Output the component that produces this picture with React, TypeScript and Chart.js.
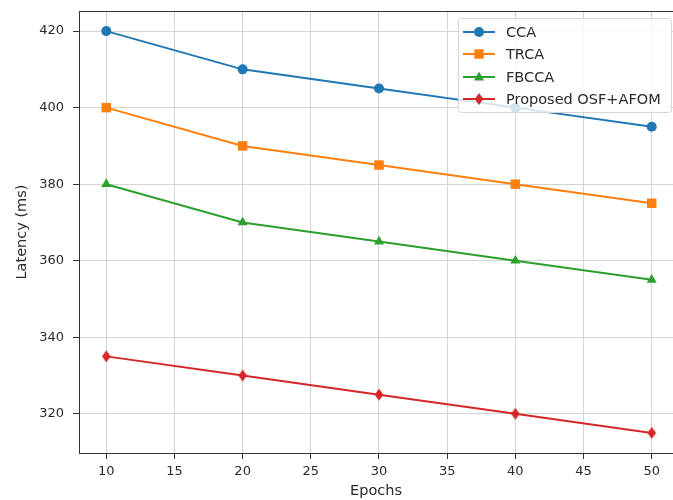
import React, { useEffect, useRef } from "react";
import { Chart, registerables } from "chart.js";

Chart.register(...registerables);

const epochs = [10, 20, 30, 40, 50];
const ccaValues = [420, 410, 405, 400, 395];
const trcaValues = [400, 390, 385, 380, 375];
const fbccaValues = [380, 370, 365, 360, 355];
const proposedValues = [335, 330, 325, 320, 315];
const seriesNames = ["CCA", "TRCA", "FBCCA", "Proposed OSF+AFOM"];
const xTicks = [10, 15, 20, 25, 30, 35, 40, 45, 50];
const yTicks = [320, 340, 360, 380, 400, 420];

const COLORS = ["#1f77b4", "#ff7f0e", "#2ca02c", "#d62728"];
const FONT = "'DejaVu Sans', sans-serif";
const TEXT = "#2a2a2a";

function makeThinDiamond(color: string) {
  const c = document.createElement("canvas");
  c.width = 10;
  c.height = 13;
  const g = c.getContext("2d")!;
  g.fillStyle = color;
  g.beginPath();
  g.moveTo(5, 0.5);
  g.lineTo(9.3, 6.5);
  g.lineTo(5, 12.5);
  g.lineTo(0.7, 6.5);
  g.closePath();
  g.fill();
  return c;
}

function drawMarker(ctx: CanvasRenderingContext2D, style: string, x: number, y: number, color: string) {
  ctx.save();
  ctx.fillStyle = color;
  ctx.beginPath();
  if (style === "circle") {
    ctx.arc(x, y, 5, 0, Math.PI * 2);
  } else if (style === "rect") {
    ctx.rect(x - 4.7, y - 4.7, 9.4, 9.4);
  } else if (style === "triangle") {
    ctx.moveTo(x, y - 5.5);
    ctx.lineTo(x + 5, y + 3.5);
    ctx.lineTo(x - 5, y + 3.5);
    ctx.closePath();
  } else {
    ctx.moveTo(x, y - 6);
    ctx.lineTo(x + 4.3, y);
    ctx.lineTo(x, y + 6);
    ctx.lineTo(x - 4.3, y);
    ctx.closePath();
  }
  ctx.fill();
  ctx.restore();
}

const legendStyles = ["circle", "rect", "triangle", "diamond"];

const legendPlugin = {
  id: "customLegend",
  afterDraw(chart: any) {
    const ctx: CanvasRenderingContext2D = chart.ctx;
    const ca = chart.chartArea;
    // top spine
    ctx.save();
    ctx.strokeStyle = "#333";
    ctx.lineWidth = 1;
    ctx.beginPath();
    ctx.moveTo(ca.left, ca.top + 0.5);
    ctx.lineTo(ca.right, ca.top + 0.5);
    ctx.stroke();
    ctx.restore();

    const x0 = 458, y0 = 18, w = 213, h = 94;
    ctx.save();
    ctx.globalAlpha = 0.8;
    ctx.fillStyle = "#fff";
    ctx.beginPath();
    (ctx as any).roundRect(x0 + 0.5, y0 + 0.5, w, h, 3);
    ctx.fill();
    ctx.globalAlpha = 1;
    ctx.strokeStyle = "#d6d6d6";
    ctx.lineWidth = 1;
    ctx.stroke();
    ctx.font = `14.5px ${FONT}`;
    ctx.textBaseline = "middle";
    ctx.textAlign = "left";
    const rows = [32, 54, 77, 99];
    seriesNames.forEach((name, i) => {
      const y = rows[i];
      ctx.strokeStyle = COLORS[i];
      ctx.lineWidth = 2;
      ctx.beginPath();
      ctx.moveTo(463, y);
      ctx.lineTo(495, y);
      ctx.stroke();
      drawMarker(ctx, legendStyles[i], 479, y, COLORS[i]);
      ctx.fillStyle = TEXT;
      ctx.fillText(name, 506, y + 1);
    });
    ctx.restore();
  },
};

export default function App() {
  const ref = useRef<HTMLCanvasElement | null>(null);
  useEffect(() => {
    if (!ref.current) return;
    const makeData = (vals: number[]) => epochs.map((x, i) => ({ x, y: vals[i] }));
    const all = [ccaValues, trcaValues, fbccaValues, proposedValues];
    const styles: any[] = ["circle", "rect", "triangle", makeThinDiamond(COLORS[3])];
    const radii = [5, 6.7, 5.8, 6];
    const chart = new Chart(ref.current, {
      type: "line",
      data: {
        datasets: all.map((vals, i) => ({
          label: seriesNames[i],
          data: makeData(vals),
          borderColor: COLORS[i],
          backgroundColor: COLORS[i],
          pointBackgroundColor: COLORS[i],
          pointBorderColor: COLORS[i],
          borderWidth: 2,
          pointStyle: styles[i],
          pointRadius: radii[i],
          pointBorderWidth: 0,
          tension: 0,
        })),
      },
      options: {
        animation: false,
        responsive: false,
        maintainAspectRatio: false,
        layout: { autoPadding: false, padding: { left: 0, top: 11, right: 0, bottom: 0 } },
        plugins: { legend: { display: false }, tooltip: { enabled: false } },
        scales: {
          x: {
            type: "linear",
            min: 8,
            max: 51.56,
            afterBuildTicks: (s: any) => {
              s.ticks = xTicks.map((v) => ({ value: v }));
            },
            afterFit: (s: any) => {
              s.height = 47;
              s.paddingLeft = 0;
              s.paddingRight = 0;
            },
            grid: { color: "#d4d4d4", lineWidth: 1, tickLength: 6, tickColor: "#333" },
            border: { display: true, color: "#333", width: 1 },
            ticks: { color: TEXT, font: { family: FONT, size: 13 }, padding: 5, maxRotation: 0 },
            title: {
              display: true,
              text: "Epochs",
              color: TEXT,
              font: { family: FONT, size: 14.5 },
              padding: { top: 0, bottom: 0 },
            },
          },
          y: {
            type: "linear",
            min: 309.75,
            max: 425.25,
            afterBuildTicks: (s: any) => {
              s.ticks = yTicks.map((v) => ({ value: v }));
            },
            afterFit: (s: any) => {
              s.width = 79;
              s.paddingTop = 0;
              s.paddingBottom = 0;
            },
            grid: { color: "#d4d4d4", lineWidth: 1, tickLength: 6, tickColor: "#333" },
            border: { display: true, color: "#333", width: 1 },
            ticks: { color: TEXT, font: { family: FONT, size: 13 }, padding: 9 },
            title: {
              display: true,
              text: "Latency (ms)",
              color: TEXT,
              font: { family: FONT, size: 14.5 },
              padding: { top: 14, bottom: 0 },
            },
          },
        },
      },
      plugins: [legendPlugin],
    });
    return () => chart.destroy();
  }, []);
  return (
    <div
      style={{
        position: "fixed",
        left: 0,
        top: 0,
        width: 673,
        height: 500,
        overflow: "hidden",
        background: "#fff",
      }}
    >
      <canvas ref={ref} width={673} height={500} style={{ display: "block" }} />
    </div>
  );
}
